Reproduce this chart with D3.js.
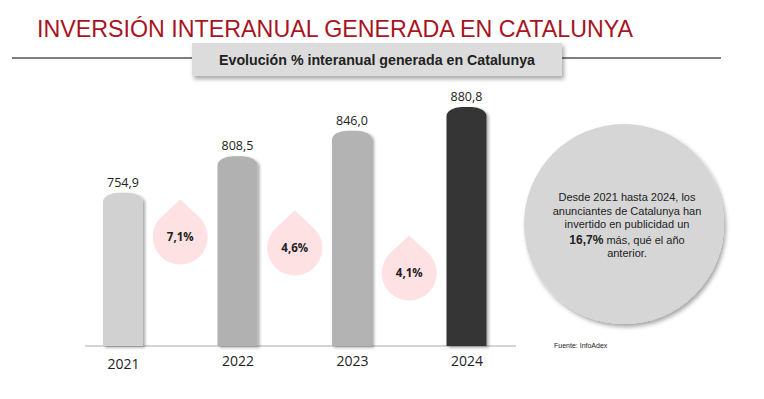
<!DOCTYPE html>
<html>
<head>
<meta charset="utf-8">
<script src="https://cdn.jsdelivr.net/npm/d3@7"></script>
<style>
  html, body { margin: 0; padding: 0; background: #fff; }
  svg { display: block; }
</style>
</head>
<body>
<script>
// ---- data ----
const years = ["2021", "2022", "2023", "2024"];
const values = [754.9, 808.5, 846.0, 880.8];
const growth = [7.1, 4.6, 4.1];
const totalGrowth = 16.7;
const title = "INVERSIÓN INTERANUAL GENERADA EN CATALUNYA";
const subtitle = "Evolución % interanual generada en Catalunya";
const source = "Fuente: InfoAdex";
const noteLines = ["Desde 2021 hasta 2024, los", "anunciantes de Catalunya han", "invertido en publicidad un"];
const noteTail = " más, qué el año";
const noteLast = "anterior.";

// ---- style / layout ----
const barColors = ["#d1d1d1", "#b1b1b1", "#b3b3b3", "#363636"];
const dropY = [237, 248, 273];
const W = 764, H = 399;
const fmt = v => d3.format(".1f")(v).replace(".", ",");

const svg = d3.select("body").append("svg").attr("width", W).attr("height", H);
const defs = svg.append("defs");
const sh = defs.append("filter").attr("id", "sh").attr("x", "-20%").attr("y", "-20%").attr("width", "150%").attr("height", "150%");
sh.append("feDropShadow").attr("dx", 2).attr("dy", 1.5).attr("stdDeviation", 1.5).attr("flood-color", "#000").attr("flood-opacity", 0.35);
const sh2 = defs.append("filter").attr("id", "sh2").attr("x", "-20%").attr("y", "-20%").attr("width", "150%").attr("height", "150%");
sh2.append("feDropShadow").attr("dx", 2).attr("dy", 3).attr("stdDeviation", 2).attr("flood-color", "#000").attr("flood-opacity", 0.35);

// title
svg.append("text").attr("x", 37).attr("y", 37)
  .attr("font-family", "'Liberation Sans Narrow', 'Liberation Sans', Arial, sans-serif")
  .attr("font-size", 24).attr("fill", "#a8141f")
  .attr("textLength", 596).attr("lengthAdjust", "spacingAndGlyphs")
  .text(title);

// rule + subtitle box
svg.append("line").attr("x1", 12).attr("x2", 721).attr("y1", 58).attr("y2", 58)
  .attr("stroke", "#555").attr("stroke-width", 1.3);
svg.append("rect").attr("x", 192).attr("y", 43).attr("width", 370).attr("height", 33)
  .attr("fill", "#dcdcdc").attr("filter", "url(#sh2)");
svg.append("text").attr("x", 377).attr("y", 64.5).attr("text-anchor", "middle")
  .attr("font-family", "'Liberation Sans Narrow', 'Liberation Sans', Arial, sans-serif")
  .attr("font-weight", "bold").attr("font-size", 14).attr("fill", "#222")
  .attr("textLength", 316).attr("lengthAdjust", "spacingAndGlyphs")
  .text(subtitle);

// scales
const x = d3.scalePoint().domain(years).range([123, 466.5]);
const y = d3.scaleLinear().domain([533, 880.8]).range([346, 109]);
const bw = 40;

// axis baseline
svg.append("line").attr("x1", 85).attr("x2", 516).attr("y1", y(533)).attr("y2", y(533))
  .attr("stroke", "#aaa").attr("stroke-width", 1);

function barPath(cx, top, bottom) {
  const l = cx - bw / 2, r = cx + bw / 2, rx = 15, ry = 9;
  return `M${l},${bottom} L${l},${top + ry} A${rx},${ry} 0 0 1 ${l + rx},${top} L${r - rx},${top} A${rx},${ry} 0 0 1 ${r},${top + ry} L${r},${bottom} Z`;
}

const bars = svg.append("g");
bars.selectAll("path").data(values).join("path")
  .attr("d", (d, i) => barPath(x(years[i]), y(d) - 2, y(533)))
  .attr("fill", (d, i) => barColors[i])
  .attr("filter", "url(#sh)");

svg.append("g").selectAll("text").data(values).join("text")
  .attr("x", (d, i) => x(years[i])).attr("y", d => y(d) - 8)
  .attr("text-anchor", "middle")
  .attr("font-family", "'Open Sans', 'Noto Sans', sans-serif")
  .attr("font-size", 12.5).attr("fill", "#222")
  .text(d => fmt(d));

// year labels
const axisG = svg.append("g").attr("transform", `translate(0,${y(533)})`)
  .call(d3.axisBottom(x).tickSize(0).tickPadding(13));
axisG.select(".domain").remove();
axisG.selectAll("text")
  .attr("font-family", "'Open Sans', 'Noto Sans', sans-serif")
  .attr("font-size", 14).attr("fill", "#222")
  .attr("dy", (d, i) => i === 0 ? "0.71em" : "0.5em");

// drops
function dropPath(cx, cy, r) {
  const d = 1.36 * r;
  const phi = Math.acos(r / d);
  const px = r * Math.sin(phi), py = r * Math.cos(phi);
  return `M${cx},${cy - d} L${cx + px},${cy - py} A${r},${r} 0 1 1 ${cx - px},${cy - py} Z`;
}
const drops = svg.append("g");
growth.forEach((g, i) => {
  const cx = (x(years[i]) + x(years[i + 1])) / 2;
  drops.append("path").attr("d", dropPath(cx, dropY[i], 27.5)).attr("fill", "#fde1e3");
  drops.append("text").attr("x", cx).attr("y", dropY[i] + 4)
    .attr("text-anchor", "middle")
    .attr("font-family", "'Open Sans', 'Noto Sans', sans-serif")
    .attr("font-weight", "bold").attr("font-size", 11.5).attr("fill", "#222")
    .text(fmt(g) + "%");
});

// big circle note
svg.append("circle").attr("cx", 624).attr("cy", 224).attr("r", 100)
  .attr("fill", "#d6d6d6").attr("filter", "url(#sh2)");
const note = svg.append("g").attr("font-family", "'Liberation Sans', Arial, sans-serif")
  .attr("font-size", 11).attr("fill", "#222").attr("text-anchor", "middle");
noteLines.forEach((t, i) => {
  note.append("text").attr("x", 627).attr("y", 201 + i * 13.5).text(t);
});
const l4 = note.append("text").attr("x", 627).attr("y", 243.5);
l4.append("tspan").attr("font-weight", "bold").attr("font-size", 12).text(fmt(totalGrowth) + "%");
l4.append("tspan").text(noteTail);
note.append("text").attr("x", 627).attr("y", 257).text(noteLast);

svg.append("text").attr("x", 554).attr("y", 348)
  .attr("font-family", "'Liberation Sans', Arial, sans-serif")
  .attr("font-size", 7).attr("fill", "#222").text(source);
</script>
</body>
</html>
